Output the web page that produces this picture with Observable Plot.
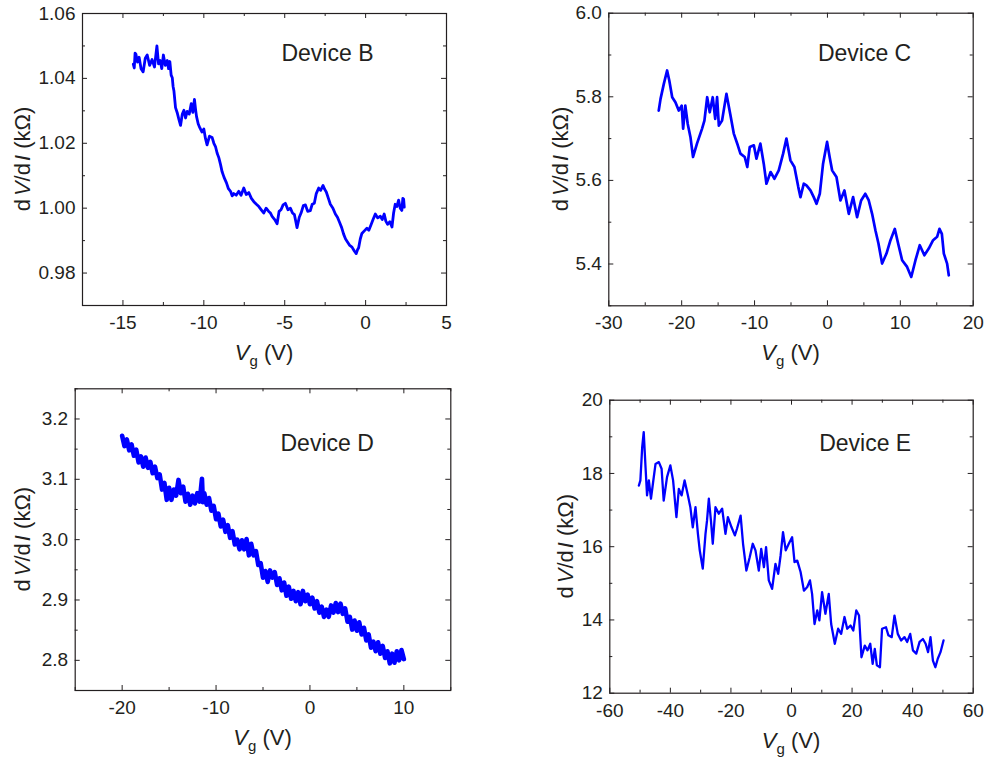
<!DOCTYPE html>
<html><head><meta charset="utf-8">
<script src="https://cdn.jsdelivr.net/npm/d3@7"></script>
<script src="https://cdn.jsdelivr.net/npm/@observablehq/plot@0.6"></script>
<style>
body{margin:0;background:#fff}
#wrap{position:relative;width:987px;height:759px;overflow:hidden}
#wrap svg{position:absolute}
</style></head><body><div id="wrap"></div>
<script>
// [Vg (V), dV/dI (kΩ)]
const deviceB = [[-14.36,1.0444],[-14.30,1.0432],[-14.25,1.0478],[-14.2,1.0475],[-14.1,1.0450],[-14.0,1.0465],[-13.88,1.0430],[-13.75,1.0420],[-13.62,1.0462],[-13.5,1.0472],[-13.35,1.0440],[-13.2,1.0458],[-13.05,1.0435],[-12.9,1.0500],[-12.8,1.0445],[-12.7,1.0455],[-12.6,1.0430],[-12.5,1.0472],[-12.38,1.0440],[-12.26,1.0455],[-12.18,1.0430],[-12.1,1.0452],[-12.02,1.0410],[-11.95,1.0402],[-11.9,1.0375],[-11.85,1.0362],[-11.75,1.0310],[-11.65,1.0295],[-11.55,1.0275],[-11.44,1.0255],[-11.33,1.0290],[-11.23,1.0302],[-11.13,1.0278],[-11.03,1.0298],[-10.9,1.0290],[-10.78,1.0322],[-10.68,1.0295],[-10.58,1.0335],[-10.5,1.0300],[-10.45,1.0282],[-10.35,1.0260],[-10.25,1.0248],[-10.12,1.0235],[-10.0,1.0244],[-9.9,1.0215],[-9.8,1.0195],[-9.65,1.0222],[-9.49,1.0218],[-9.38,1.0200],[-9.28,1.0190],[-9.18,1.0170],[-9.07,1.0155],[-8.97,1.0135],[-8.87,1.0112],[-8.75,1.0095],[-8.6,1.0078],[-8.48,1.0060],[-8.35,1.0052],[-8.25,1.0038],[-8.15,1.0045],[-8.0,1.0040],[-7.84,1.0052],[-7.7,1.0040],[-7.53,1.0062],[-7.38,1.0042],[-7.22,1.0048],[-7.06,1.0030],[-6.91,1.0020],[-6.75,1.0012],[-6.6,1.0005],[-6.45,0.9995],[-6.3,0.9985],[-6.15,1.0000],[-5.99,0.9990],[-5.88,0.9985],[-5.78,0.9975],[-5.62,0.9965],[-5.47,0.9952],[-5.35,0.9990],[-5.23,0.9995],[-5.1,1.0010],[-4.96,1.0015],[-4.8,0.9995],[-4.65,1.0000],[-4.52,0.9985],[-4.4,0.9980],[-4.3,0.9955],[-4.24,0.9940],[-4.1,0.9972],[-3.99,0.9985],[-3.85,1.0008],[-3.72,1.0010],[-3.58,0.9990],[-3.42,0.9992],[-3.3,1.0012],[-3.17,1.0015],[-3.05,1.0045],[-2.9,1.0062],[-2.78,1.0055],[-2.63,1.0070],[-2.53,1.0058],[-2.43,1.0050],[-2.3,1.0030],[-2.18,1.0012],[-2.02,1.0000],[-1.87,0.9982],[-1.74,0.9972],[-1.6,0.9955],[-1.48,0.9940],[-1.36,0.9920],[-1.24,0.9905],[-1.11,0.9895],[-0.98,0.9885],[-0.84,0.9880],[-0.7,0.9868],[-0.58,0.9860],[-0.5,0.9872],[-0.43,0.9878],[-0.33,0.9905],[-0.23,0.9922],[-0.08,0.9930],[0.08,0.9938],[0.2,0.9932],[0.33,0.9948],[0.46,0.9965],[0.6,0.9982],[0.75,0.9970],[0.91,0.9975],[1.03,0.9965],[1.15,0.9982],[1.25,0.9960],[1.36,0.9950],[1.5,0.9958],[1.63,0.9942],[1.73,0.9985],[1.83,1.0012],[1.93,1.0005],[2.04,1.0025],[2.14,1.0000],[2.24,0.9993],[2.3,1.0030],[2.35,1.0028],[2.39,1.0003]];

const deviceC = [[-23.15,5.767],[-22.9,5.795],[-22.45,5.831],[-22.0,5.863],[-21.7,5.839],[-21.3,5.799],[-20.86,5.787],[-20.4,5.767],[-20.0,5.779],[-19.8,5.724],[-19.5,5.779],[-19.17,5.735],[-18.8,5.704],[-18.44,5.656],[-17.9,5.688],[-17.2,5.724],[-16.88,5.743],[-16.5,5.799],[-16.15,5.763],[-15.74,5.799],[-15.4,5.747],[-15.14,5.799],[-14.9,5.731],[-14.46,5.743],[-13.86,5.807],[-13.3,5.755],[-12.85,5.712],[-12.3,5.684],[-11.94,5.664],[-11.35,5.656],[-11.0,5.632],[-10.66,5.680],[-10.1,5.684],[-9.74,5.652],[-9.2,5.688],[-8.74,5.640],[-8.37,5.592],[-7.8,5.620],[-7.27,5.604],[-6.68,5.624],[-6.08,5.664],[-5.63,5.700],[-5.08,5.648],[-4.53,5.632],[-4.0,5.584],[-3.7,5.560],[-3.25,5.592],[-2.88,5.588],[-2.33,5.576],[-1.88,5.560],[-1.5,5.544],[-1.05,5.568],[-0.6,5.640],[-0.05,5.692],[0.3,5.656],[0.64,5.624],[1.24,5.608],[1.78,5.552],[2.33,5.576],[2.93,5.520],[3.52,5.560],[4.07,5.512],[4.62,5.552],[5.2,5.568],[5.67,5.552],[6.13,5.520],[6.59,5.480],[7.0,5.449],[7.5,5.401],[8.1,5.425],[8.65,5.457],[9.24,5.484],[9.7,5.449],[10.25,5.409],[10.93,5.393],[11.5,5.369],[12.08,5.409],[12.67,5.445],[13.3,5.421],[13.9,5.437],[14.5,5.457],[15.05,5.465],[15.37,5.484],[15.7,5.472],[15.97,5.425],[16.42,5.401],[16.65,5.373]];

const deviceD = [[-20.0,3.172],[-19.75,3.155],[-19.5,3.166],[-19.25,3.148],[-19.0,3.158],[-18.75,3.139],[-18.5,3.149],[-18.25,3.128],[-18.0,3.138],[-17.75,3.121],[-17.5,3.136],[-17.25,3.119],[-17.0,3.129],[-16.75,3.110],[-16.5,3.121],[-16.25,3.102],[-16.0,3.108],[-15.75,3.083],[-15.5,3.094],[-15.25,3.066],[-15.0,3.086],[-14.75,3.066],[-14.5,3.083],[-14.25,3.073],[-14.0,3.099],[-13.75,3.077],[-13.5,3.088],[-13.25,3.063],[-13.0,3.076],[-12.75,3.058],[-12.5,3.073],[-12.25,3.060],[-12.0,3.077],[-11.75,3.063],[-11.5,3.101],[-11.4,3.062],[-11.25,3.077],[-11.0,3.058],[-10.75,3.069],[-10.5,3.048],[-10.25,3.056],[-10.0,3.034],[-9.75,3.043],[-9.5,3.022],[-9.25,3.033],[-9.0,3.013],[-8.75,3.024],[-8.5,3.003],[-8.25,3.014],[-8.0,2.992],[-7.75,3.000],[-7.5,2.984],[-7.25,2.999],[-7.0,2.984],[-6.75,3.001],[-6.5,2.974],[-6.25,2.993],[-6.0,2.974],[-5.75,2.981],[-5.5,2.958],[-5.25,2.961],[-5.0,2.937],[-4.75,2.948],[-4.5,2.930],[-4.25,2.949],[-4.0,2.937],[-3.75,2.946],[-3.5,2.925],[-3.25,2.936],[-3.0,2.916],[-2.75,2.929],[-2.5,2.907],[-2.25,2.922],[-2.0,2.902],[-1.75,2.915],[-1.5,2.898],[-1.25,2.913],[-1.0,2.893],[-0.75,2.915],[-0.5,2.898],[-0.25,2.909],[0.0,2.893],[0.25,2.904],[0.5,2.886],[0.75,2.898],[1.0,2.879],[1.25,2.889],[1.5,2.872],[1.75,2.884],[2.0,2.872],[2.25,2.891],[2.5,2.879],[2.75,2.895],[3.0,2.880],[3.25,2.894],[3.5,2.877],[3.75,2.886],[4.0,2.864],[4.25,2.872],[4.5,2.851],[4.75,2.866],[5.0,2.849],[5.25,2.863],[5.5,2.843],[5.75,2.854],[6.0,2.833],[6.25,2.843],[6.5,2.821],[6.75,2.831],[7.0,2.815],[7.25,2.830],[7.5,2.811],[7.75,2.824],[8.0,2.804],[8.25,2.815],[8.5,2.795],[8.75,2.811],[9.0,2.796],[9.25,2.815],[9.5,2.800],[9.75,2.817],[10.0,2.802]];

const deviceE = [[-50.4,17.67],[-49.9,17.81],[-49.3,18.72],[-48.8,19.13],[-48.2,18.17],[-47.7,17.40],[-47.1,17.81],[-46.4,17.31],[-45.7,17.76],[-44.9,18.26],[-43.8,18.31],[-42.9,18.13],[-42.2,17.26],[-41.1,17.90],[-40.0,18.22],[-39.1,17.81],[-38.0,16.81],[-37.2,17.58],[-36.3,17.40],[-35.3,17.81],[-34.2,17.40],[-33.4,17.08],[-32.6,16.53],[-31.7,17.08],[-30.9,16.35],[-30.3,15.90],[-29.3,15.40],[-28.4,16.35],[-27.9,16.71],[-27.3,17.31],[-26.6,16.71],[-26.0,16.08],[-25.1,17.08],[-24.0,16.90],[-22.9,17.04],[-21.8,16.35],[-21.0,16.81],[-19.8,16.53],[-18.7,16.31],[-18.0,16.49],[-16.8,16.85],[-16.0,16.08],[-14.9,15.35],[-13.8,15.71],[-12.8,16.08],[-11.9,15.90],[-10.8,15.35],[-10.0,15.94],[-9.1,15.44],[-8.4,15.99],[-7.5,15.08],[-6.4,14.85],[-5.3,15.53],[-4.4,15.26],[-3.6,15.76],[-2.8,16.40],[-1.9,15.90],[-0.9,16.08],[0.2,16.26],[1.0,15.58],[1.9,15.62],[3.0,15.31],[4.1,14.80],[5.2,14.90],[6.1,15.08],[6.8,14.71],[7.6,13.89],[8.5,14.26],[9.2,13.99],[10.1,14.76],[11.2,14.17],[12.3,14.71],[13.1,13.89],[14.3,13.35],[15.4,13.76],[16.4,13.62],[17.5,14.08],[18.4,13.76],[19.5,13.85],[20.4,13.71],[21.4,14.26],[22.3,14.12],[23.1,12.98],[24.2,13.30],[25.1,13.17],[26.0,13.35],[26.8,12.80],[27.5,13.21],[28.2,12.76],[29.2,12.71],[29.9,13.76],[31.2,13.80],[32.0,13.58],[33.1,13.53],[34.0,14.12],[35.1,13.62],[36.2,13.44],[37.3,13.53],[38.2,13.40],[39.2,13.62],[40.1,13.17],[41.2,13.08],[42.3,13.40],[43.4,13.48],[44.3,13.35],[45.1,13.12],[45.9,13.53],[46.7,12.89],[47.5,12.71],[48.3,12.94],[49.2,13.12],[50.2,13.44]];

// tick values
const bXMajor = [-15,-10,-5,0,5], bXMinor = [-17.5,-12.5,-7.5,-2.5,2.5];
const bYMajor = [0.98,1.00,1.02,1.04,1.06], bYMinor = [0.97,0.99,1.01,1.03,1.05];
const cXMajor = [-30,-20,-10,0,10,20], cXMinor = [-25,-15,-5,5,15];
const cYMajor = [5.4,5.6,5.8,6.0], cYMinor = [5.3,5.5,5.7,5.9];
const dXMajor = [-20,-10,0,10], dXMinor = [-25,-15,-5,5,15];
const dYMajor = [2.8,2.9,3.0,3.1,3.2], dYMinor = [2.75,2.85,2.95,3.05,3.15,3.25];
const eXMajor = [-60,-40,-20,0,20,40,60], eXMinor = [-50,-30,-10,10,30,50];
const eYMajor = [12,14,16,18,20], eYMinor = [13,15,17,19];
const deviceNames = ["Device B","Device C","Device D","Device E"];

const INK = "#231f20";
const FONT = "'Liberation Sans', Arial, Helvetica, sans-serif";

const panels = [
  {name: deviceNames[0], data: deviceB, sw: 2.8, xd: [-17.5,5], yd: [0.97,1.06], xM: bXMajor, xm: bXMinor, yM: bYMajor, ym: bYMinor,
   yf: d => d.toFixed(2), left: 0, top: 0, w: 493, h: 379, mL: 82, mT: 13, mR: 47, mB: 74, ldx: -73, ldy: 31, ylx: 29.5},
  {name: deviceNames[1], data: deviceC, sw: 2.7, xd: [-30,20], yd: [5.3,6.0], xM: cXMajor, xm: cXMinor, yM: cYMajor, ym: cYMinor,
   yf: d => d.toFixed(1), left: 493, top: 0, w: 494, h: 379, mL: 115.3, mT: 12.7, mR: 14.3, mB: 73.7, ldx: -62, ldy: 31.5, ylx: 75},
  {name: deviceNames[2], data: deviceD, sw: 4.6, xd: [-25,15], yd: [2.75,3.25], xM: dXMajor, xm: dXMinor, yM: dYMajor, ym: dYMinor,
   yf: d => d.toFixed(1), left: 0, top: 379, w: 493, h: 380, mL: 74.7, mT: 9.3, mR: 42.7, mB: 69, ldx: -77, ldy: 46, ylx: 29.5},
  {name: deviceNames[3], data: deviceE, sw: 2.3, xd: [-60,60], yd: [12,20], xM: eXMajor, xm: eXMinor, yM: eYMajor, ym: eYMinor,
   yf: d => String(d), left: 493, top: 379, w: 494, h: 380, mL: 116.3, mT: 20.7, mR: 14.3, mB: 66.3, ldx: -62, ldy: 34, ylx: 80}
];

const wrap = document.getElementById("wrap");

for (const p of panels) {
  const fw = p.w - p.mL - p.mR, fh = p.h - p.mT - p.mB;
  const rows = p.data.map(([x, y]) => ({x, y}));
  const MAJ = 5, MIN = 3;
  const chart = Plot.plot({
    width: p.w, height: p.h,
    marginLeft: p.mL, marginTop: p.mT, marginRight: p.mR, marginBottom: p.mB,
    x: {domain: p.xd}, y: {domain: p.yd},
    style: {fontFamily: FONT, fontSize: "19px", color: INK, background: "transparent", overflow: "visible"},
    marks: [
      Plot.line(rows, {x: "x", y: "y", stroke: "#0000ff", strokeWidth: p.sw, strokeLinejoin: "round"}),
      Plot.ruleX(p.xM, {stroke: INK, strokeWidth: 1, insetTop: fh - MAJ}),
      Plot.ruleX(p.xM, {stroke: INK, strokeWidth: 1, insetBottom: fh - MAJ}),
      Plot.ruleX(p.xm, {stroke: INK, strokeWidth: 1, insetTop: fh - MIN}),
      Plot.ruleX(p.xm, {stroke: INK, strokeWidth: 1, insetBottom: fh - MIN}),
      Plot.ruleY(p.yM, {stroke: INK, strokeWidth: 1, insetRight: fw - MAJ}),
      Plot.ruleY(p.yM, {stroke: INK, strokeWidth: 1, insetLeft: fw - MAJ}),
      Plot.ruleY(p.ym, {stroke: INK, strokeWidth: 1, insetRight: fw - MIN}),
      Plot.ruleY(p.ym, {stroke: INK, strokeWidth: 1, insetLeft: fw - MIN}),
      Plot.frame({stroke: INK, strokeWidth: 1.2}),
      Plot.axisX({ticks: p.xM, tickSize: 0, tickPadding: 10, tickFormat: d => String(d), label: null, fontSize: 19}),
      Plot.axisY({ticks: p.yM, tickSize: 0, tickPadding: 7, tickFormat: p.yf, label: null, fontSize: 19}),
      Plot.text([p.name], {text: d => d, frameAnchor: "top-right", textAnchor: "end", lineAnchor: "top",
        dx: p.ldx, dy: p.ldy, fontSize: 23, fill: INK})
    ]
  });
  chart.style.left = p.left + "px";
  chart.style.top = p.top + "px";
  const svg = d3.select(chart);
  // y label: dV/dI (kΩ)
  const cy = p.mT + fh / 2;
  const yl = svg.append("text")
    .attr("transform", `translate(${p.ylx},${cy}) rotate(-90)`)
    .attr("text-anchor", "middle").attr("font-size", 22).attr("font-family", FONT).attr("fill", INK);
  yl.append("tspan").text("d");
  yl.append("tspan").attr("font-style", "italic").attr("dx", 3).text("V");
  yl.append("tspan").text("/d");
  yl.append("tspan").attr("font-style", "italic").attr("dx", 2).text("I");
  yl.append("tspan").text(" (k\u03A9)");
  // x label: Vg (V)
  const cx = p.mL + fw / 2;
  const xl = svg.append("text")
    .attr("x", cx).attr("y", p.h - p.mB + 55)
    .attr("text-anchor", "middle").attr("font-size", 22).attr("font-family", FONT).attr("fill", INK);
  xl.append("tspan").attr("font-style", "italic").text("V");
  xl.append("tspan").attr("font-size", 15).attr("dy", 6).text("g");
  xl.append("tspan").attr("dy", -6).text(" (V)");
  wrap.appendChild(chart);
}
</script>
</body></html>
